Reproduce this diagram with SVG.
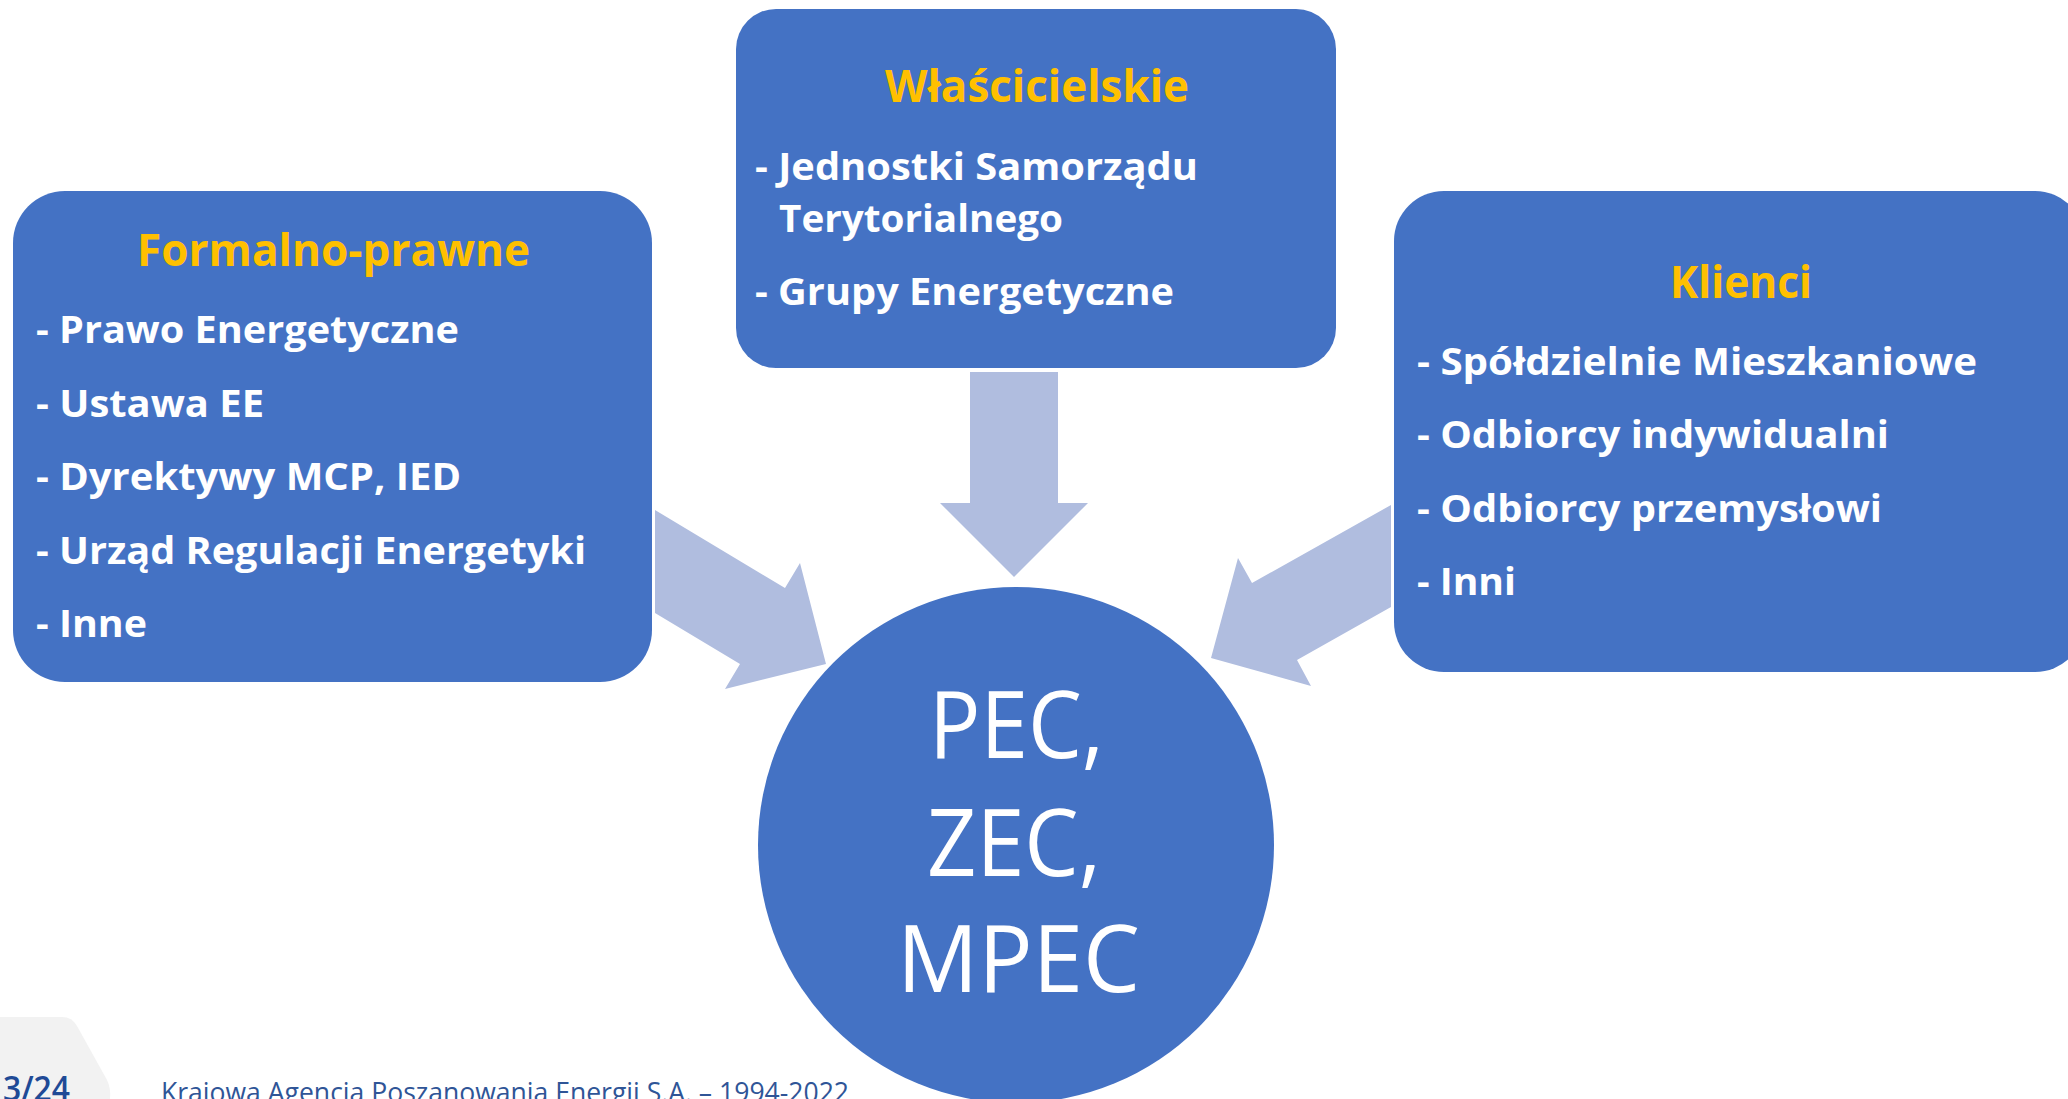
<svg xmlns="http://www.w3.org/2000/svg" width="2068" height="1099" viewBox="0 0 2068 1099">
  <style>
    .box { fill: #4472C4; }
    .arrow { fill: #B0BDDF; }
    .title { font-family: "Open Sans", "Noto Sans", sans-serif; font-weight: bold; font-size: 44px; fill: #FFC000; }
    .item { font-family: "Open Sans", "Noto Sans", sans-serif; font-weight: bold; font-size: 38px; fill: #FFFFFF; }
    .big { font-family: "Open Sans", "Noto Sans", sans-serif; font-size: 94px; fill: #FFFFFF; }
    .pg { font-family: "Open Sans", "Noto Sans", sans-serif; font-weight: 600; font-size: 34px; fill: #1F4A96; }
    .foot { font-family: "Open Sans", "Noto Sans", sans-serif; font-size: 27px; fill: #2F5597; }
  </style>
  <rect width="2068" height="1099" fill="#FFFFFF"/>

  <g id="connectors">
    <polygon class="arrow" points="970,372 1058,372 1058,503 1088,503 1014,577 940,503 970,503"/>
    <polygon class="arrow" points="655,510 785,588 800,563 826,664 725,689 740,664 655,613"/>
    <polygon class="arrow" points="1391,505 1252,583 1238,558 1211,658 1311,686 1297,660 1391,607"/>
  </g>

  <g id="node-formalno-prawne">
    <rect class="box" x="13" y="191" width="639" height="491" rx="52" ry="52"/>
    <text class="title" x="137" y="266" textLength="393" lengthAdjust="spacingAndGlyphs">Formalno-prawne</text>
    <text class="item" x="36" y="343" textLength="423" lengthAdjust="spacingAndGlyphs">- Prawo Energetyczne</text>
    <text class="item" x="36" y="417" textLength="228" lengthAdjust="spacingAndGlyphs">- Ustawa EE</text>
    <text class="item" x="36" y="490" textLength="425" lengthAdjust="spacingAndGlyphs">- Dyrektywy MCP, IED</text>
    <text class="item" x="36" y="564" textLength="550" lengthAdjust="spacingAndGlyphs">- Urząd Regulacji Energetyki</text>
    <text class="item" x="36" y="637" textLength="111" lengthAdjust="spacingAndGlyphs">- Inne</text>
  </g>

  <g id="node-wlascicielskie">
    <rect class="box" x="736" y="9" width="600" height="359" rx="40" ry="40"/>
    <text class="title" x="885" y="102" textLength="304" lengthAdjust="spacingAndGlyphs">Właścicielskie</text>
    <text class="item" x="755" y="180" textLength="443" lengthAdjust="spacingAndGlyphs">- Jednostki Samorządu</text>
    <text class="item" x="779" y="232" textLength="284" lengthAdjust="spacingAndGlyphs">Terytorialnego</text>
    <text class="item" x="755" y="305" textLength="419" lengthAdjust="spacingAndGlyphs">- Grupy Energetyczne</text>
  </g>

  <g id="node-klienci">
    <rect class="box" x="1394" y="191" width="691" height="481" rx="50" ry="50"/>
    <text class="title" x="1670" y="298" textLength="142" lengthAdjust="spacingAndGlyphs">Klienci</text>
    <text class="item" x="1417" y="375" textLength="560" lengthAdjust="spacingAndGlyphs">- Spółdzielnie Mieszkaniowe</text>
    <text class="item" x="1417" y="448" textLength="472" lengthAdjust="spacingAndGlyphs">- Odbiorcy indywidualni</text>
    <text class="item" x="1417" y="522" textLength="465" lengthAdjust="spacingAndGlyphs">- Odbiorcy przemysłowi</text>
    <text class="item" x="1417" y="595" textLength="99" lengthAdjust="spacingAndGlyphs">- Inni</text>
  </g>

  <g id="node-pec">
    <circle class="box" cx="1016" cy="845" r="258"/>
    <text class="big" x="929" y="758" textLength="175" lengthAdjust="spacingAndGlyphs">PEC,</text>
    <text class="big" x="927" y="876" textLength="174" lengthAdjust="spacingAndGlyphs">ZEC,</text>
    <text class="big" x="897" y="992" textLength="243" lengthAdjust="spacingAndGlyphs">MPEC</text>
  </g>

  <g id="footer">
    <path d="M0,1017 L62,1017 Q72,1017 77,1026 L107,1080 Q111,1088 110,1099 L0,1099 Z" fill="#F2F2F2"/>
    <text class="pg" x="3" y="1101" textLength="67" lengthAdjust="spacingAndGlyphs">3/24</text>
    <text class="foot" x="161" y="1102" textLength="688" lengthAdjust="spacingAndGlyphs">Krajowa Agencja Poszanowania Energii S.A. – 1994-2022</text>
  </g>
</svg>
